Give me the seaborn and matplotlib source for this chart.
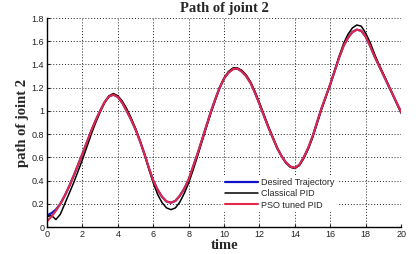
import pandas as pd
import matplotlib
matplotlib.use("Agg")
import matplotlib.pyplot as plt
import seaborn as sns

# Values (step of 0.25 in time)
time = [0, 0.25, 0.5, 0.75, 1, 1.25, 1.5, 1.75, 2, 2.25, 2.5, 2.75,
        3, 3.25, 3.5, 3.75, 4, 4.25, 4.5, 4.75, 5, 5.25, 5.5, 5.75,
        6, 6.25, 6.5, 6.75, 7, 7.25, 7.5, 7.75, 8, 8.25, 8.5, 8.75,
        9, 9.25, 9.5, 9.75, 10, 10.25, 10.5, 10.75, 11, 11.25, 11.5, 11.75,
        12, 12.25, 12.5, 12.75, 13, 13.25, 13.5, 13.75, 14, 14.25, 14.5, 14.75,
        15, 15.25, 15.5, 15.75, 16, 16.25, 16.5, 16.75, 17, 17.25, 17.5, 17.75,
        18, 18.25, 18.5, 18.75, 19, 19.25, 19.5, 19.75, 20]

desired = [0.10, 0.12, 0.15, 0.20, 0.27, 0.35, 0.44, 0.535, 0.63, 0.73, 0.83, 0.92,
           1.00, 1.075, 1.125, 1.14, 1.12, 1.07, 1.00, 0.925, 0.84, 0.74, 0.63, 0.51,
           0.40, 0.32, 0.26, 0.22, 0.21, 0.225, 0.27, 0.33, 0.41, 0.52, 0.63, 0.75,
           0.87, 0.99, 1.10, 1.20, 1.28, 1.33, 1.36, 1.365, 1.34, 1.30, 1.24, 1.155,
           1.06, 0.96, 0.86, 0.77, 0.68, 0.61, 0.555, 0.52, 0.51, 0.535, 0.60, 0.68,
           0.78, 0.90, 1.02, 1.125, 1.23, 1.345, 1.46, 1.56, 1.63, 1.68, 1.70, 1.69,
           1.64, 1.56, 1.47, 1.39, 1.31, 1.23, 1.15, 1.07, 0.99]

classical = [0.09, 0.10, 0.065, 0.11, 0.20, 0.29, 0.38, 0.48, 0.58, 0.69, 0.80, 0.90,
             0.99, 1.07, 1.13, 1.15, 1.13, 1.085, 1.02, 0.94, 0.85, 0.745, 0.63, 0.50,
             0.38, 0.28, 0.21, 0.165, 0.15, 0.165, 0.215, 0.29, 0.38, 0.49, 0.61, 0.735,
             0.86, 0.98, 1.09, 1.20, 1.28, 1.34, 1.37, 1.37, 1.35, 1.31, 1.25, 1.165,
             1.07, 0.97, 0.87, 0.775, 0.685, 0.61, 0.55, 0.515, 0.505, 0.53, 0.59, 0.67,
             0.77, 0.89, 1.01, 1.12, 1.23, 1.35, 1.47, 1.58, 1.66, 1.715, 1.74, 1.73,
             1.67, 1.59, 1.49, 1.40, 1.32, 1.235, 1.15, 1.065, 0.98]

pso = [0.05, 0.09, 0.14, 0.20, 0.27, 0.35, 0.44, 0.535, 0.63, 0.73, 0.83, 0.92,
       1.00, 1.075, 1.125, 1.14, 1.12, 1.07, 1.00, 0.925, 0.84, 0.74, 0.63, 0.51,
       0.40, 0.32, 0.26, 0.22, 0.21, 0.225, 0.27, 0.33, 0.41, 0.52, 0.63, 0.75,
       0.87, 0.99, 1.10, 1.20, 1.28, 1.33, 1.36, 1.365, 1.34, 1.30, 1.24, 1.155,
       1.06, 0.96, 0.86, 0.77, 0.68, 0.61, 0.555, 0.52, 0.51, 0.535, 0.60, 0.68,
       0.78, 0.90, 1.02, 1.125, 1.23, 1.345, 1.46, 1.56, 1.63, 1.68, 1.70, 1.69,
       1.64, 1.56, 1.47, 1.39, 1.31, 1.23, 1.15, 1.07, 0.99]

x_ticks = [0, 2, 4, 6, 8, 10, 12, 14, 16, 18, 20]
y_ticks = [0, 0.2, 0.4, 0.6, 0.8, 1.0, 1.2, 1.4, 1.6, 1.8]
y_tick_labels = ["0", "0.2", "0.4", "0.6", "0.8", "1", "1.2", "1.4", "1.6", "1.8"]

df = pd.DataFrame({"time": time, "desired": desired,
                   "classical": classical, "pso": pso})

sns.set_style("ticks")
plt.rcParams["font.family"] = ["Liberation Sans", "DejaVu Sans"]

fig = plt.figure(figsize=(4.2, 2.54), dpi=100)
ax = fig.add_axes([0.112, 0.106, 0.843, 0.823])

sns.lineplot(data=df, x="time", y="desired", color="#1010c8", linewidth=1.6,
             label="Desired Trajectory", ax=ax)
sns.lineplot(data=df, x="time", y="classical", color="black", linewidth=1.1,
             label="Classical PID", ax=ax)
sns.lineplot(data=df, x="time", y="pso", color="#e02848", linewidth=1.5,
             label="PSO tuned PID", ax=ax)

ax.set_xlim(0, 20)
ax.set_ylim(0, 1.8)
ax.set_xticks(x_ticks)
ax.set_xticklabels([str(t) for t in x_ticks])
ax.set_yticks(y_ticks)
ax.set_yticklabels(y_tick_labels)
ax.tick_params(direction="in", length=2, labelsize=6.5, pad=2, colors="#222222")

ax.grid(True, linestyle=(0, (1, 2)), color="#222222", linewidth=0.7)
for side in ["top", "right"]:
    ax.spines[side].set_visible(False)
for side in ["left", "bottom"]:
    ax.spines[side].set_linewidth(1.0)
    ax.spines[side].set_color("black")

serif = ["Liberation Serif", "DejaVu Serif"]
ax.set_title("Path of joint 2", family=serif, fontweight="bold", fontsize=10.5, pad=4)
ax.set_xlabel("time", family=serif, fontweight="bold", fontsize=10.5, labelpad=0)
ax.set_ylabel("path of joint 2", family=serif, fontweight="bold", fontsize=10.5,
              labelpad=2)

leg = ax.legend(loc="upper left", bbox_to_anchor=(0.485, 0.265), fontsize=6.5,
                frameon=True, framealpha=1, edgecolor="white", fancybox=False,
                handlelength=3.6, handletextpad=0.4, labelspacing=0.25,
                borderpad=0.2)

fig.savefig("out.png", dpi=100)
